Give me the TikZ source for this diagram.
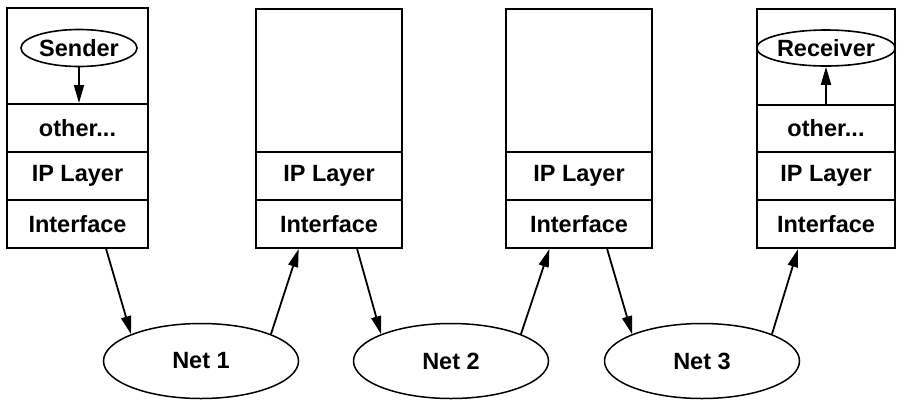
\documentclass[tikz,border=0pt]{standalone}
\usepackage{fontspec}
\setmainfont{Liberation Sans}
\usetikzlibrary{arrows.meta,shapes.geometric,calc}
\begin{document}
\begin{tikzpicture}[x=1pt,y=-1pt,
  lay/.style={draw,line width=2pt,rectangle,inner sep=0pt,font=\fontsize{23.5}{27}\selectfont\bfseries},
  app/.style={draw,line width=1.6pt,ellipse,inner sep=0pt,font=\fontsize{23.5}{27}\selectfont\bfseries},
  net/.style={draw,line width=1.5pt,ellipse,inner sep=0pt,minimum width=195pt,minimum height=75pt,font=\fontsize{23.5}{27}\selectfont\bfseries},
  arr/.style={line width=1.8pt,-{Triangle[length=18pt,width=10pt]}}]
\useasboundingbox (0,0) rectangle (904,400);
% stack 1
\node[lay,minimum width=141pt,minimum height=96pt] (s1t) at (77.5,56) {};
\node[lay,minimum width=141pt,minimum height=48pt] (s1o) at (77.5,128) {other...};
\node[lay,minimum width=141pt,minimum height=48pt] (s1ip) at (77.5,176) {IP Layer};
\node[lay,minimum width=141pt,minimum height=48pt] (s1if) at (77.5,224) {Interface};
\node[app,minimum width=116pt,minimum height=37pt] (snd) at (79,48) {Sender};
% stack 2
\node[lay,minimum width=146pt,minimum height=143pt] (s2t) at (329,80.5) {};
\node[lay,minimum width=146pt,minimum height=48pt] (s2ip) at (329,176) {IP Layer};
\node[lay,minimum width=146pt,minimum height=48pt] (s2if) at (329,224) {Interface};
% stack 3
\node[lay,minimum width=146pt,minimum height=143pt] (s3t) at (579,80.5) {};
\node[lay,minimum width=146pt,minimum height=48pt] (s3ip) at (579,176) {IP Layer};
\node[lay,minimum width=146pt,minimum height=48pt] (s3if) at (579,224) {Interface};
% stack 4
\node[lay,minimum width=138pt,minimum height=96pt] (s4t) at (826,57) {};
\node[lay,minimum width=138pt,minimum height=47pt] (s4o) at (826,128.5) {other...};
\node[lay,minimum width=138pt,minimum height=48pt] (s4ip) at (826,176) {IP Layer};
\node[lay,minimum width=138pt,minimum height=48pt] (s4if) at (826,224) {Interface};
\node[app,minimum width=110pt,minimum height=36pt] (rcv) at (826,48) {Receiver};
% nets
\node[net] (n1) at (201,361) {Net 1};
\node[net] (n2) at (451,361) {Net 2};
\node[net] (n3) at (702,361) {Net 3};
% arrows
\draw[arr] (snd.south) -- (snd.south |- s1o.north);
\draw[arr] (rcv.south |- s4o.north) -- (rcv.south);
\draw[arr] ($(s1if.south west)!0.70!(s1if.south east)$) -- (n1.159);
\draw[arr] (n1.21) -- ($(s2if.south west)!0.295!(s2if.south east)$);
\draw[arr] ($(s2if.south west)!0.69!(s2if.south east)$) -- (n2.159);
\draw[arr] (n2.21) -- ($(s3if.south west)!0.30!(s3if.south east)$);
\draw[arr] ($(s3if.south west)!0.69!(s3if.south east)$) -- (n3.159);
\draw[arr] (n3.21) -- ($(s4if.south west)!0.30!(s4if.south east)$);
\end{tikzpicture}
\end{document}
